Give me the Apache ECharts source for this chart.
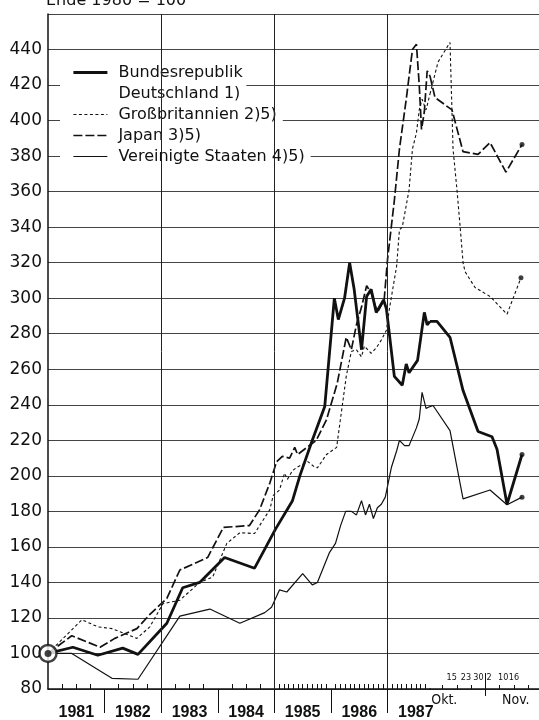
<!DOCTYPE html>
<html>
<head>
<meta charset="utf-8">
<script src="https://cdn.jsdelivr.net/npm/echarts@6/dist/echarts.min.js"></script>
<style>
html, body { margin: 0; padding: 0; background: #fff; }
#chart { width: 539px; height: 720px; }
</style>
</head>
<body>
<div id="chart"></div>
<script>
// Monatswerte 1981 bis Ende September 1987: [Jahr, Index Ende 1980 = 100]
var brd = [
  [1981.00, 100], [1981.44, 103.5], [1981.88, 99], [1982.32, 103], [1982.59, 99.5],
  [1983.10, 117], [1983.38, 137], [1983.68, 140], [1984.12, 154], [1984.65, 148],
  [1985.02, 170], [1985.32, 186], [1985.45, 200], [1985.67, 220], [1985.89, 239],
  [1986.06, 300], [1986.13, 288], [1986.24, 300], [1986.33, 320], [1986.41, 305],
  [1986.54, 271], [1986.63, 301], [1986.71, 305], [1986.80, 292], [1986.93, 299],
  [1986.98, 294], [1987.12, 256], [1987.26, 251], [1987.33, 263], [1987.38, 258],
  [1987.53, 265], [1987.65, 292], [1987.70, 285], [1987.75, 287]
];
var gb = [
  [1981.00, 100], [1981.60, 119], [1981.88, 115], [1982.13, 114], [1982.57, 108.5],
  [1982.80, 115], [1983.03, 128], [1983.33, 130], [1983.68, 140], [1983.91, 143],
  [1984.16, 162], [1984.39, 168], [1984.65, 167.5], [1984.92, 181], [1984.98, 189],
  [1985.09, 192], [1985.18, 201.5], [1985.23, 198], [1985.32, 203], [1985.41, 205],
  [1985.59, 208], [1985.71, 205], [1985.76, 204.5], [1985.92, 212], [1986.10, 216],
  [1986.27, 256], [1986.36, 270], [1986.45, 271], [1986.54, 267], [1986.59, 273],
  [1986.71, 269], [1986.80, 272], [1986.89, 276.5], [1986.98, 282], [1987.03, 293.5],
  [1987.16, 318], [1987.21, 338.5], [1987.26, 340], [1987.38, 361], [1987.44, 384],
  [1987.51, 393], [1987.56, 406], [1987.61, 412], [1987.68, 406], [1987.75, 415]
];
var jp = [
  [1981.00, 100], [1981.42, 110], [1981.92, 103.5], [1982.18, 108.5], [1982.57, 114],
  [1982.80, 122], [1983.10, 131], [1983.33, 147], [1983.82, 154], [1984.10, 171],
  [1984.56, 172], [1984.74, 181], [1984.92, 196], [1985.04, 208], [1985.14, 211],
  [1985.27, 210], [1985.36, 216], [1985.41, 212], [1985.74, 220], [1985.92, 231.5],
  [1986.11, 252], [1986.27, 278], [1986.36, 271], [1986.45, 285], [1986.54, 295],
  [1986.63, 307], [1986.71, 303], [1986.82, 292], [1986.94, 299], [1987.00, 322],
  [1987.12, 355], [1987.21, 384], [1987.33, 412], [1987.44, 440], [1987.51, 443],
  [1987.56, 420], [1987.60, 395], [1987.65, 405], [1987.70, 428], [1987.75, 425]
];
var us = [
  [1981.00, 100], [1981.42, 100], [1982.13, 86], [1982.59, 85.5], [1983.33, 121],
  [1983.86, 125], [1984.39, 117], [1984.83, 123], [1984.95, 126], [1985.09, 135.8],
  [1985.22, 134.6], [1985.50, 145], [1985.67, 138.6], [1985.76, 140], [1985.97, 156.6],
  [1986.08, 162], [1986.17, 172], [1986.26, 180], [1986.36, 180], [1986.45, 178],
  [1986.54, 186], [1986.61, 178], [1986.68, 184], [1986.75, 176], [1986.82, 182],
  [1986.89, 184], [1986.96, 188], [1987.07, 205], [1987.16, 214], [1987.21, 220],
  [1987.30, 217], [1987.38, 217], [1987.51, 227], [1987.56, 232], [1987.61, 247],
  [1987.68, 238], [1987.75, 239]
];

// Tageswerte Oktober/November 1987: [Tage seit 30. Sept., Index]
var brdOkt = [[0, 287], [3.9, 287], [11.2, 278], [18.5, 248], [26.9, 225], [34.7, 222], [37.5, 215], [43.1, 184], [51.5, 212]];
var gbOkt = [[0, 415], [4.5, 433], [11.2, 444], [12.9, 384], [15.1, 361], [16.8, 341], [18.5, 320], [19.6, 315], [25.2, 306], [33.6, 301], [43.1, 291], [50.9, 311.5]];
var jpOkt = [[0, 425], [2.8, 413], [12.3, 406], [18.5, 382.5], [26.9, 381], [33.6, 387.6], [42.5, 371], [51.5, 386.5]];
var usOkt = [[0, 239], [1.7, 239.6], [11.2, 225.5], [18.5, 187], [33.6, 192], [43.1, 183.7], [51.5, 188]];

// Achsen
var years = [1981, 1982, 1983, 1984, 1985, 1986, 1987];
var yearLabels = ['1981', '1982', '1983', '1984', '1985', '1986', '1987'];
var oktDays = [15, 23, 30];
var oktLabels = ['15', '23', '30'];
var novDays = [33, 41, 47];
var novLabels = ['2', '10', '16'];
var weekTicks = [7, 15, 23, 39, 47, 55];
var monthLabelDays = [8, 48];
var monthLabels = ['Okt.', 'Nov.'];
var bigLines = [1983, 1985, 1987];

var names = ['Bundesrepublik', 'Deutschland 1)', 'Großbritannien 2)5)', 'Japan 3)5)', 'Vereinigte Staaten 4)5)'];
var ink = '#111';
var styles = {
  'Bundesrepublik': { color: ink, width: 2.8, type: 'solid' },
  'Großbritannien 2)5)': { color: ink, width: 1.1, type: [3, 2.5] },
  'Japan 3)5)': { color: ink, width: 1.7, type: [9, 3] },
  'Vereinigte Staaten 4)5)': { color: ink, width: 1.2, type: 'solid' }
};

// kleine Striche an der x-Achse: Quartale bis 1984, danach Monate
var innerTicks = [];
for (var y = 1981; y < 1985; y++) {
  innerTicks.push(y + 0.25, y + 0.5, y + 0.75);
}
for (var m = 1985 * 12 + 1; m < 1987 * 12 + 9; m++) {
  if (m % 12 !== 0) innerTicks.push(m / 12);
}

function line(name, data, part) {
  return {
    name: name,
    type: 'line',
    data: data,
    xAxisIndex: part === 0 ? 0 : 2,
    yAxisIndex: part,
    symbol: 'none',
    silent: true,
    lineStyle: styles[name],
    itemStyle: { color: ink },
    z: name === 'Bundesrepublik' ? 4 : 3
  };
}

var series = [
  line(names[0], brd, 0), line(names[0], brdOkt, 1),
  { name: names[1], type: 'line', data: [], xAxisIndex: 0, yAxisIndex: 0 },
  line(names[2], gb, 0), line(names[2], gbOkt, 1),
  line(names[3], jp, 0), line(names[3], jpOkt, 1),
  line(names[4], us, 0), line(names[4], usOkt, 1)
];
// senkrechte Linien 1983, 1985, 1987
series[7].markLine = {
  silent: true,
  symbol: ['none', 'none'],
  label: { show: false },
  lineStyle: { color: '#222', width: 1, type: 'solid' },
  data: bigLines.map(function (x) { return { xAxis: x }; })
};
// Anfangspunkt
series.push({
  type: 'scatter', xAxisIndex: 0, yAxisIndex: 0, data: [brd[0]], silent: true,
  symbolSize: 17, itemStyle: { color: '#fff', borderColor: ink, borderWidth: 2.5 }, z: 6
});
series.push({
  type: 'scatter', xAxisIndex: 0, yAxisIndex: 0, data: [brd[0]], silent: true,
  symbolSize: 7, itemStyle: { color: ink }, z: 7
});
// Endpunkte
series.push({
  type: 'scatter', xAxisIndex: 2, yAxisIndex: 1, silent: true,
  data: [brdOkt, gbOkt, jpOkt, usOkt].map(function (a) { return a[a.length - 1]; }),
  symbolSize: 5, itemStyle: { color: ink }, z: 6
});

function legendItem(name) {
  return { name: name, lineStyle: { width: styles[name].width, type: styles[name].type } };
}

var gridLine = { show: true, lineStyle: { color: '#444', width: 1 } };
var tickFont = { fontFamily: 'DejaVu Sans', fontSize: 17, color: ink };
var narrow = "'Liberation Sans Narrow', 'DejaVu Sans Condensed', sans-serif";
var smallLabel = {
  inside: true, margin: 7, fontFamily: narrow, fontSize: 9, color: ink,
  showMinLabel: true, showMaxLabel: true, hideOverlap: false
};

// Achse im Okt./Nov.-Teil, nur für einzelne Beschriftungen oder Striche
function dayAxis(extra) {
  return Object.assign({
    type: 'value', gridIndex: 1, min: 0, max: 61, position: 'bottom',
    axisLine: { show: false, onZero: false },
    splitLine: { show: false },
    axisTick: { show: false }
  }, extra);
}
function novAxis(days) {
  return dayAxis({
    axisLabel: Object.assign({
      customValues: days, align: 'center',
      formatter: function (v) { return novLabels[novDays.indexOf(v)]; }
    }, smallLabel)
  });
}

var myChart = echarts.init(document.getElementById('chart'));
myChart.setOption({
  animation: false,
  backgroundColor: '#fff',
  textStyle: { fontFamily: 'DejaVu Sans' },
  title: {
    text: 'Ende 1980 = 100',
    left: 46, top: -7, padding: 0,
    textStyle: { fontFamily: 'DejaVu Sans', fontSize: 16, fontWeight: 'normal', color: ink }
  },
  grid: [
    { left: 48, right: 109, top: 14, bottom: 31, outerBoundsMode: 'none' },
    { left: 430, right: 0, top: 14, bottom: 31, outerBoundsMode: 'none' }
  ],
  legend: {
    orient: 'vertical',
    left: 72, top: 62,
    padding: 0,
    itemWidth: 34, itemHeight: 10, itemGap: 0,
    selectedMode: false,
    itemStyle: { opacity: 0 },
    textStyle: {
      fontFamily: 'DejaVu Sans', fontSize: 16, color: ink, lineHeight: 21,
      backgroundColor: '#fff', padding: [0, 6, 0, 6]
    },
    data: [legendItem(names[0]), { name: names[1], icon: 'none' },
      legendItem(names[2]), legendItem(names[3]), legendItem(names[4])]
  },
  graphic: [{
    type: 'rect', left: 60, top: 62, z: 1, silent: true,
    shape: { width: 58, height: 105 },
    style: { fill: '#fff' }
  }],
  xAxis: [
    {
      type: 'value', gridIndex: 0, min: 1981, max: 1987.75, position: 'bottom',
      axisLine: { onZero: false, lineStyle: { color: ink, width: 1.5 } },
      splitLine: { show: false },
      axisTick: { show: true, inside: true, length: 5, customValues: innerTicks, lineStyle: { color: ink } },
      axisLabel: {
        customValues: years.map(function (y) { return y + 0.5; }),
        formatter: function (v) { return yearLabels[years.indexOf(Math.floor(v))]; },
        margin: 16, fontFamily: 'Liberation Sans', fontWeight: 'bold', fontSize: 16, color: ink
      }
    },
    {
      type: 'value', gridIndex: 0, min: 1981, max: 1987.75, position: 'bottom',
      axisLine: { show: false, onZero: false },
      splitLine: { show: false },
      axisTick: { show: true, inside: false, length: 24, customValues: years.slice(1), lineStyle: { color: ink } },
      axisLabel: { show: false }
    },
    dayAxis({
      axisLine: { onZero: false, lineStyle: { color: ink, width: 1.5 } },
      axisTick: { show: true, inside: true, length: 4, customValues: weekTicks, lineStyle: { color: ink } },
      axisLabel: Object.assign({
        customValues: oktDays, align: 'right',
        formatter: function (v) { return oktLabels[oktDays.indexOf(v)]; }
      }, smallLabel)
    }),
    dayAxis({
      axisTick: { show: true, inside: true, length: 16, customValues: [31], lineStyle: { color: ink } },
      axisLabel: { show: false }
    }),
    dayAxis({
      axisTick: { show: true, inside: false, length: 7, customValues: [31], lineStyle: { color: ink } },
      axisLabel: {
        customValues: monthLabelDays, margin: 4, hideOverlap: false,
        formatter: function (v) { return monthLabels[monthLabelDays.indexOf(v)]; },
        fontFamily: narrow, fontSize: 14, color: ink
      }
    }),
    novAxis([novDays[0]]),
    novAxis([novDays[1]]),
    novAxis([novDays[2]])
  ],
  yAxis: [
    {
      type: 'value', gridIndex: 0, min: 80, max: 460, interval: 20,
      axisLine: { show: true, lineStyle: { color: ink, width: 1.5 } },
      axisTick: { show: false },
      splitLine: gridLine,
      axisLabel: Object.assign({
        margin: 6,
        formatter: function (v) { return v === 460 ? '' : String(v); }
      }, tickFont)
    },
    {
      type: 'value', gridIndex: 1, min: 80, max: 460, interval: 20,
      axisLine: { show: false },
      axisTick: { show: false },
      splitLine: gridLine,
      axisLabel: { show: false }
    }
  ],
  series: series
});
</script>
</body>
</html>
